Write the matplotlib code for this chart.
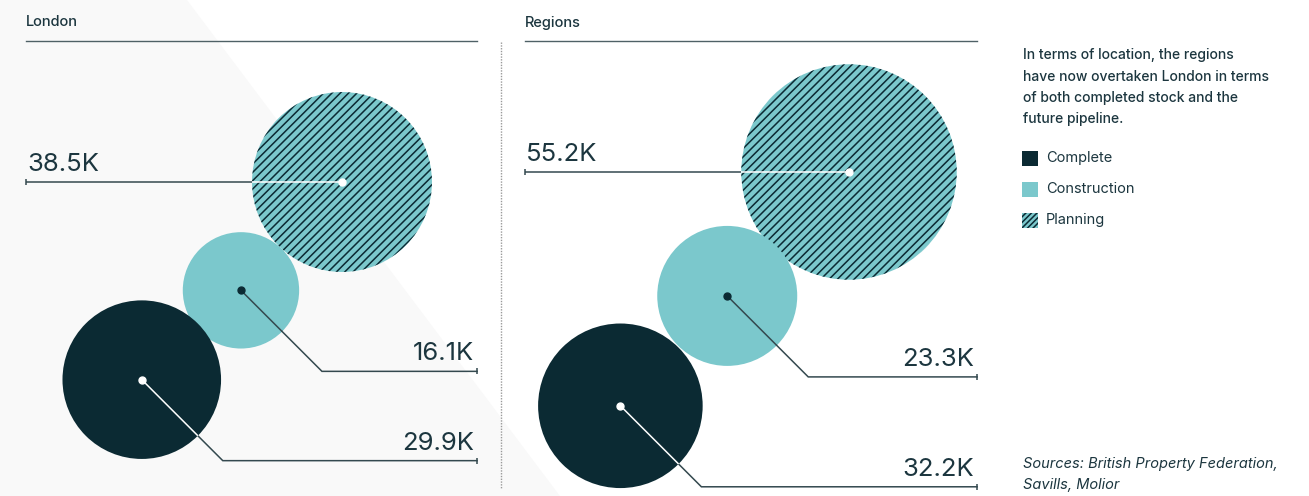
import numpy as np
import matplotlib
matplotlib.use("Agg")
import matplotlib.pyplot as plt
from matplotlib.patches import Circle, Rectangle, Polygon

plt.rcParams['font.family'] = ['Inter', 'DejaVu Sans']
plt.rcParams['hatch.linewidth'] = 1.1

# ---- data -------------------------------------------------------------
panels = ["London", "Regions"]
categories = ["Complete", "Construction", "Planning"]
london_units = [29.9, 16.1, 38.5]      # thousands of units
regions_units = [32.2, 23.3, 55.2]
values = {"London": london_units, "Regions": regions_units}

note_lines = ["In terms of location, the regions",
              "have now overtaken London in terms",
              "of both completed stock and the",
              "future pipeline."]
source_lines = ["Sources: British Property Federation,",
                "Savills, Molior"]

# ---- style ------------------------------------------------------------
DARK = "#0b2a33"
TEAL = "#7bc8cc"
TEXT = "#1c363f"
RULE = "#4f6166"
LEAD = "#34494f"
BG_SHADE = "#f9f9f9"

W, H = 1309, 496
fig = plt.figure(figsize=(W / 100, H / 100), dpi=100)
ax = fig.add_axes([0, 0, 1, 1])
ax.set_xlim(0, W)
ax.set_ylim(H, 0)
ax.set_aspect("equal")
ax.axis("off")

# diagonal shaded backdrop on the left
ax.add_patch(Polygon([(0, 0), (187, 0), (560, H), (0, H)], closed=True,
                     facecolor=BG_SHADE, edgecolor="none", zorder=0))

# bubble area is proportional to value
SCALE = 14.5  # px per sqrt(thousand units)


def radius(v):
    return SCALE * np.sqrt(v)


# panel layout: extents, anchor of the planning bubble, chain angles/gaps
layout = {
    "London": dict(x0=26, x1=477, anchor=(342, 182),
                   links=[(47, 0), (42, -4)]),
    "Regions": dict(x0=525, x1=977, anchor=(849, 172),
                    links=[(45.5, -4), (45.8, 1)]),
}
DIAG = 81       # length of the 45-degree leader run (px in x and y)
TICK = 3


def end_tick(x, y):
    ax.plot([x, x], [y - TICK, y + TICK], color=LEAD, lw=1.1,
            solid_capstyle="butt", zorder=6)


for name in panels:
    L = layout[name]
    vals = dict(zip(categories, values[name]))
    r = {c: radius(v) for c, v in vals.items()}

    # chain the bubbles from planning -> construction -> complete
    centers = {"Planning": np.array(L["anchor"], dtype=float)}
    prev = "Planning"
    for cat, (ang, gap) in zip(["Construction", "Complete"], L["links"]):
        a = np.deg2rad(ang)
        d = r[prev] + r[cat] + gap
        centers[cat] = centers[prev] + d * np.array([-np.cos(a), np.sin(a)])
        prev = cat

    # panel title and rule
    ax.text(L["x0"], 26.5, name, fontsize=10.5, color=TEXT, ha="left",
            va="baseline", fontweight="medium")
    ax.plot([L["x0"], L["x1"]], [41, 41], color=RULE, lw=1.0, zorder=3)

    # bubbles
    cp = centers["Planning"]
    ax.add_patch(Circle(cp, r["Planning"], facecolor=TEAL, edgecolor=DARK,
                        lw=0, hatch="////", zorder=2))
    ax.add_patch(Circle(centers["Construction"], r["Construction"],
                        facecolor=TEAL, edgecolor="none", zorder=3))
    ax.add_patch(Circle(centers["Complete"], r["Complete"],
                        facecolor=DARK, edgecolor="none", zorder=4))

    # planning leader: horizontal to the left edge
    rp = r["Planning"]
    ax.plot([L["x0"], cp[0] - rp], [cp[1], cp[1]], color=LEAD, lw=1.1,
            zorder=6, solid_capstyle="butt")
    ax.plot([cp[0] - rp, cp[0]], [cp[1], cp[1]], color="white", lw=1.1,
            zorder=6, solid_capstyle="butt")
    ax.plot(*cp, "o", ms=5, color="white", zorder=7)
    end_tick(L["x0"], cp[1])
    ax.text(L["x0"] + 1, cp[1] - 11, f"{vals['Planning']:.1f}K",
            fontsize=18.5, color=TEXT, ha="left", va="baseline")

    # construction / complete leaders: 45 degrees then horizontal right
    for cat, inner, dot in [("Construction", LEAD, DARK),
                            ("Complete", "white", "white")]:
        c = centers[cat]
        elbow = c + DIAG
        edge = c + r[cat] * np.array([np.cos(np.pi / 4), np.sin(np.pi / 4)])
        ax.plot([edge[0], elbow[0], L["x1"]], [edge[1], elbow[1], elbow[1]],
                color=LEAD, lw=1.1, zorder=6, solid_joinstyle="miter")
        ax.plot([c[0], edge[0]], [c[1], edge[1]], color=inner, lw=1.1,
                zorder=6, solid_capstyle="butt")
        ax.plot(*c, "o", ms=5, color=dot, zorder=7)
        end_tick(L["x1"], elbow[1])
        ax.text(L["x1"] - 3, elbow[1] - 11, f"{vals[cat]:.1f}K",
                fontsize=18.5, color=TEXT, ha="right", va="baseline")

# dotted separator between the panels
ax.plot([501, 501], [42, 488], color="#9a9a9a", lw=1.0, ls=(0, (1, 1)),
        zorder=1)

# side note
for i, line in enumerate(note_lines):
    ax.text(1023, 59.3 + 21.3 * i, line, fontsize=10, color=TEXT,
            ha="left", va="baseline", fontweight="medium")

# legend
legend_style = {
    "Complete": dict(facecolor=DARK, edgecolor="none", hatch=None),
    "Construction": dict(facecolor=TEAL, edgecolor="none", hatch=None),
    "Planning": dict(facecolor=TEAL, edgecolor=DARK, hatch="//////"),
}
for i, cat in enumerate(categories):
    yc = 158 + 31 * i
    st = legend_style[cat]
    ax.add_patch(Rectangle((1022, yc - 7.5), 15.5, 15, lw=0, zorder=3, **st))
    ax.text(1046, yc + 4, cat, fontsize=10.5, color=TEXT, ha="left",
            va="baseline")

# sources
for i, line in enumerate(source_lines):
    ax.text(1023, 468 + 21 * i, line, fontsize=10.5, color=TEXT,
            ha="left", va="baseline", style="italic")

fig.savefig("out.png", dpi=100)
